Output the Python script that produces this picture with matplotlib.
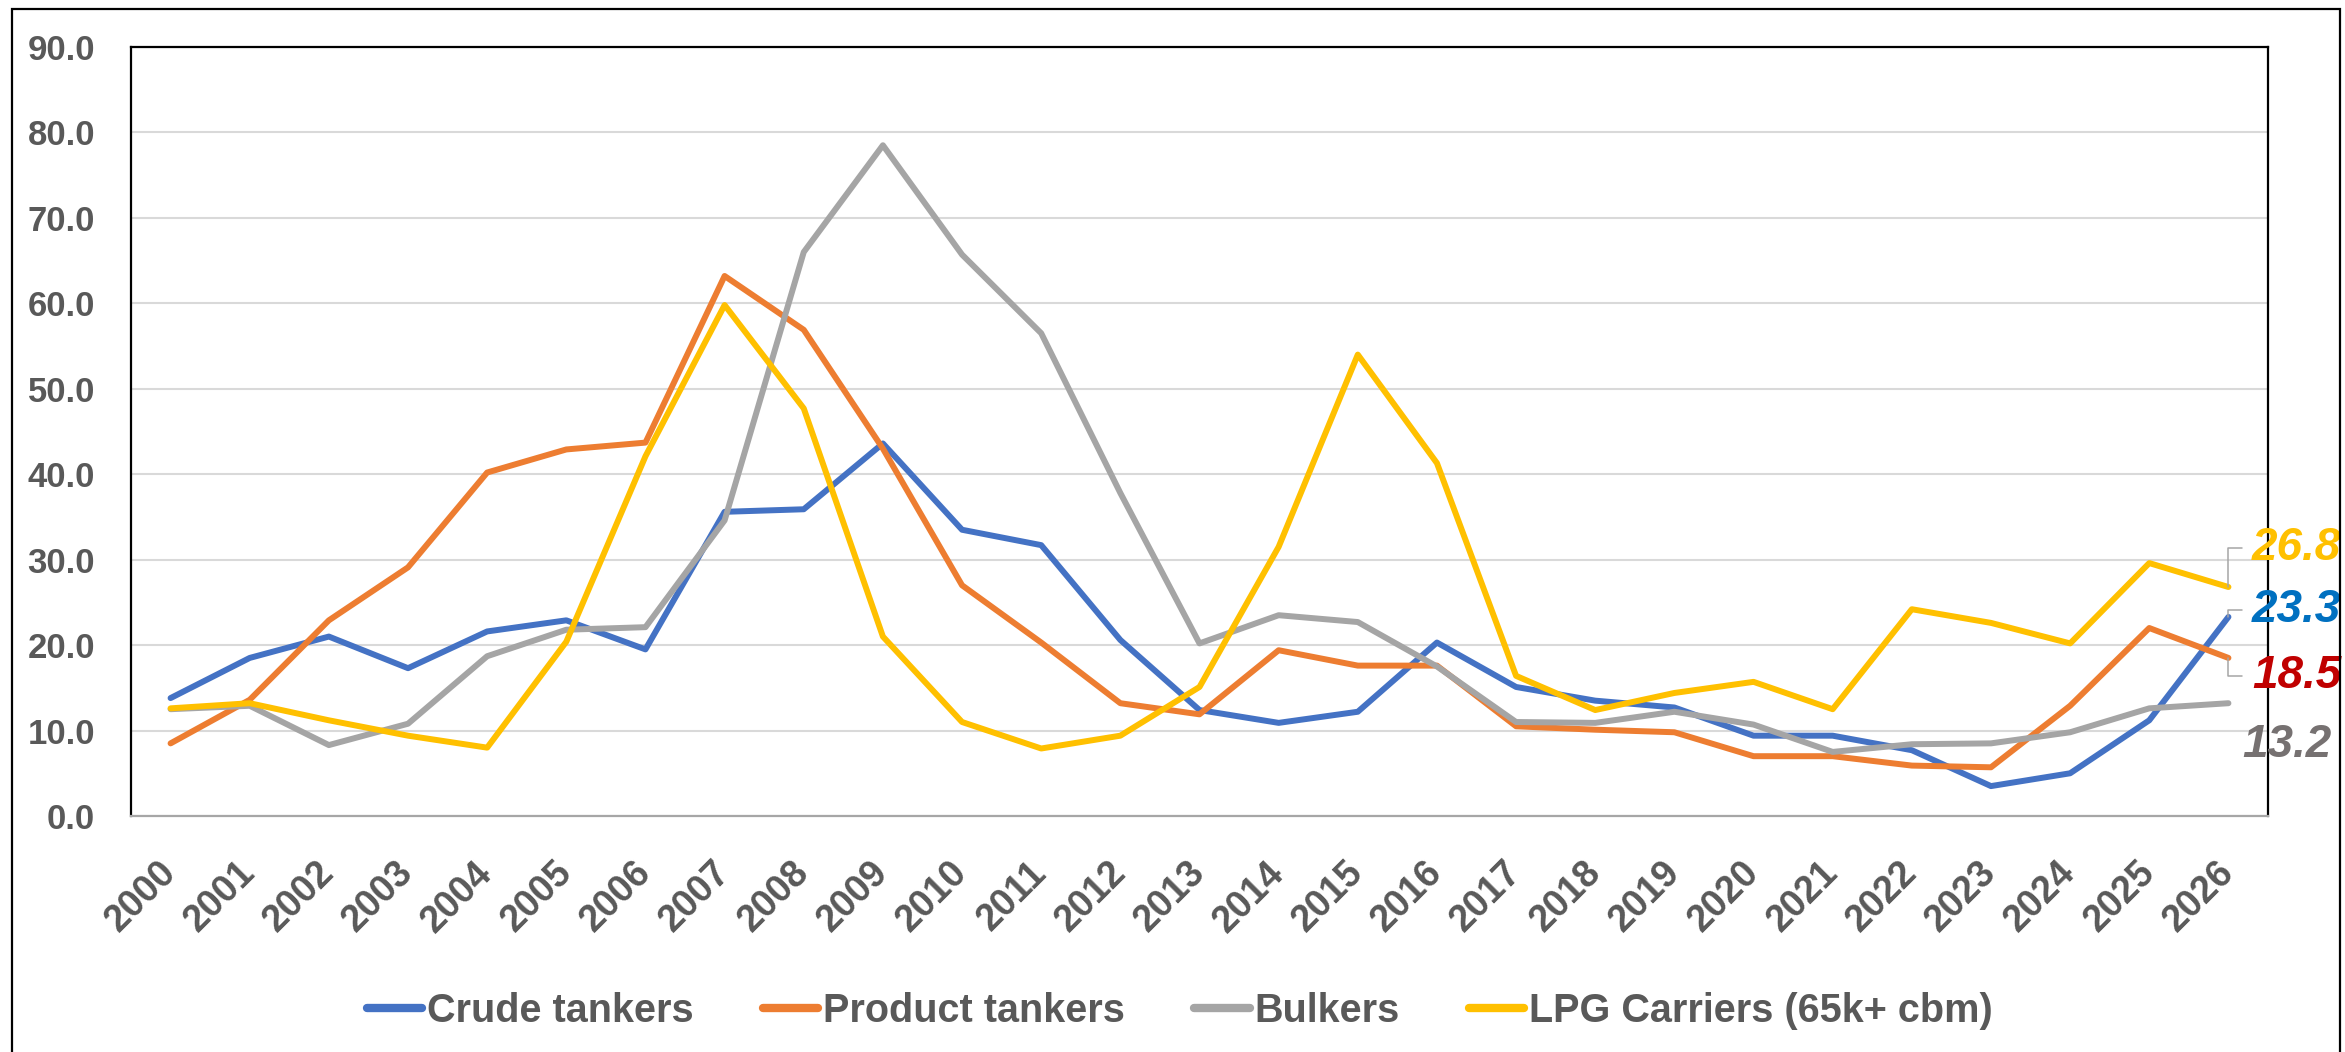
import matplotlib
matplotlib.use("Agg")
import matplotlib.pyplot as plt
from matplotlib.patches import Rectangle

plt.rcParams['font.family'] = ['Liberation Sans', 'DejaVu Sans']

years = [str(y) for y in range(2000, 2027)]
crude = [13.8, 18.5, 21.0, 17.3, 21.6, 22.9, 19.5, 35.6, 35.9, 43.6, 33.5, 31.7, 20.6,
         12.4, 10.9, 12.2, 20.3, 15.1, 13.5, 12.7, 9.4, 9.4, 7.7, 3.5, 5.0, 11.2, 23.3]
product = [8.5, 13.6, 22.9, 29.1, 40.2, 42.9, 43.7, 63.2, 56.9, 43.0, 27.0, 20.3, 13.2,
           11.9, 19.4, 17.6, 17.6, 10.5, 10.1, 9.8, 7.0, 7.0, 5.9, 5.7, 12.9, 22.0, 18.5]
bulkers = [12.5, 12.9, 8.3, 10.8, 18.7, 21.8, 22.1, 34.6, 66.0, 78.5, 65.7, 56.5, 37.8,
           20.2, 23.5, 22.7, 17.5, 11.0, 10.9, 12.2, 10.7, 7.5, 8.4, 8.5, 9.8, 12.6, 13.2]
lpg = [12.6, 13.2, 11.2, 9.4, 8.0, 20.4, 42.1, 59.8, 47.7, 21.0, 11.0, 7.9, 9.4,
       15.1, 31.5, 54.0, 41.3, 16.4, 12.4, 14.4, 15.7, 12.5, 24.2, 22.6, 20.2, 29.6, 26.8]

series_names = ["Crude tankers", "Product tankers", "Bulkers", "LPG Carriers (65k+ cbm)"]
series_values = [crude, product, bulkers, lpg]
series_colors = ["#4472C4", "#ED7D31", "#A5A5A5", "#FFC000"]
label_colors = ["#0070C0", "#C00000", "#767171", "#FFC000"]

W, H = 2345, 1052
DPI = 100
fig = plt.figure(figsize=(W / DPI, H / DPI), dpi=DPI)
fig.patch.set_facecolor("white")

# outer chart border
fig.add_artist(Rectangle((12 / W, -0.01), (2340 - 12) / W, 1.0 - 9 / H + 0.01,
                         transform=fig.transFigure, fill=False, edgecolor="black",
                         linewidth=1.6))

ax = fig.add_axes([131 / W, 1 - 816 / H, (2268 - 131) / W, (816 - 47) / H])
x = list(range(len(years)))

handles = []
for name, vals, col in zip(series_names, series_values, series_colors):
    ln, = ax.plot(x, vals, color=col, linewidth=4.3, solid_joinstyle="round",
                  solid_capstyle="round", label=name, zorder=3)
    handles.append(ln)

ax.set_xlim(-0.5, len(years) - 0.5)
ax.set_ylim(0, 90)
ax.set_yticks(range(0, 91, 10))
ax.set_yticklabels([f"{v:.1f}" for v in range(0, 91, 10)])
ax.set_xticks(x)
ax.set_xticklabels(years)

ax.grid(axis="y", color="#D9D9D9", linewidth=1.5, zorder=0)
ax.set_axisbelow(True)
for s in ["left", "top", "right"]:
    ax.spines[s].set_color("black")
    ax.spines[s].set_linewidth(1.6)
ax.spines["bottom"].set_color("#A6A6A6")
ax.spines["bottom"].set_linewidth(1.6)

ax.tick_params(axis="both", length=0)
ax.tick_params(axis="y", pad=26, labelsize=25, labelcolor="#595959")
ax.tick_params(axis="x", pad=37, labelsize=27, labelcolor="#595959")
for t in ax.get_yticklabels():
    t.set_fontweight("bold")
for t in ax.get_xticklabels():
    t.set_fontweight("bold")
    t.set_rotation(45)
    t.set_rotation_mode("anchor")
    t.set_ha("right")
    t.set_va("center")

# end labels (offsets in points relative to last data point)
last = len(years) - 1
end_offsets = {0: (17, 5), 1: (17, -13), 2: (10, -30), 3: (17, 28)}
leader = {0: True, 1: True, 2: False, 3: True}
for i, (vals, col) in enumerate(zip(series_values, label_colors)):
    dx, dy = end_offsets[i]
    kw = {}
    if leader[i]:
        kw["arrowprops"] = dict(arrowstyle="-", color="#A6A6A6", linewidth=1.1,
                                connectionstyle="angle,angleA=0,angleB=90,rad=0",
                                shrinkA=5, shrinkB=0, relpos=(0, 0.5))
    ax.annotate(f"{vals[last]:.1f}", xy=(last, vals[last]), xytext=(dx, dy),
                textcoords="offset points", ha="left", va="center",
                fontsize=33, fontweight="bold", fontstyle="italic", color=col,
                annotation_clip=False, zorder=5, **kw)

leg = fig.legend(handles=handles, labels=series_names, loc="center",
                 bbox_to_anchor=(1180 / W, 1 - 1011 / H), ncol=4, frameon=False,
                 fontsize=28.5, handlelength=1.4, handletextpad=0.12,
                 columnspacing=1.75, borderaxespad=0)
for t in leg.get_texts():
    t.set_color("#595959")
    t.set_fontweight("bold")
for lh in leg.get_lines():
    lh.set_linewidth(6)

fig.savefig("out.png", dpi=DPI)
